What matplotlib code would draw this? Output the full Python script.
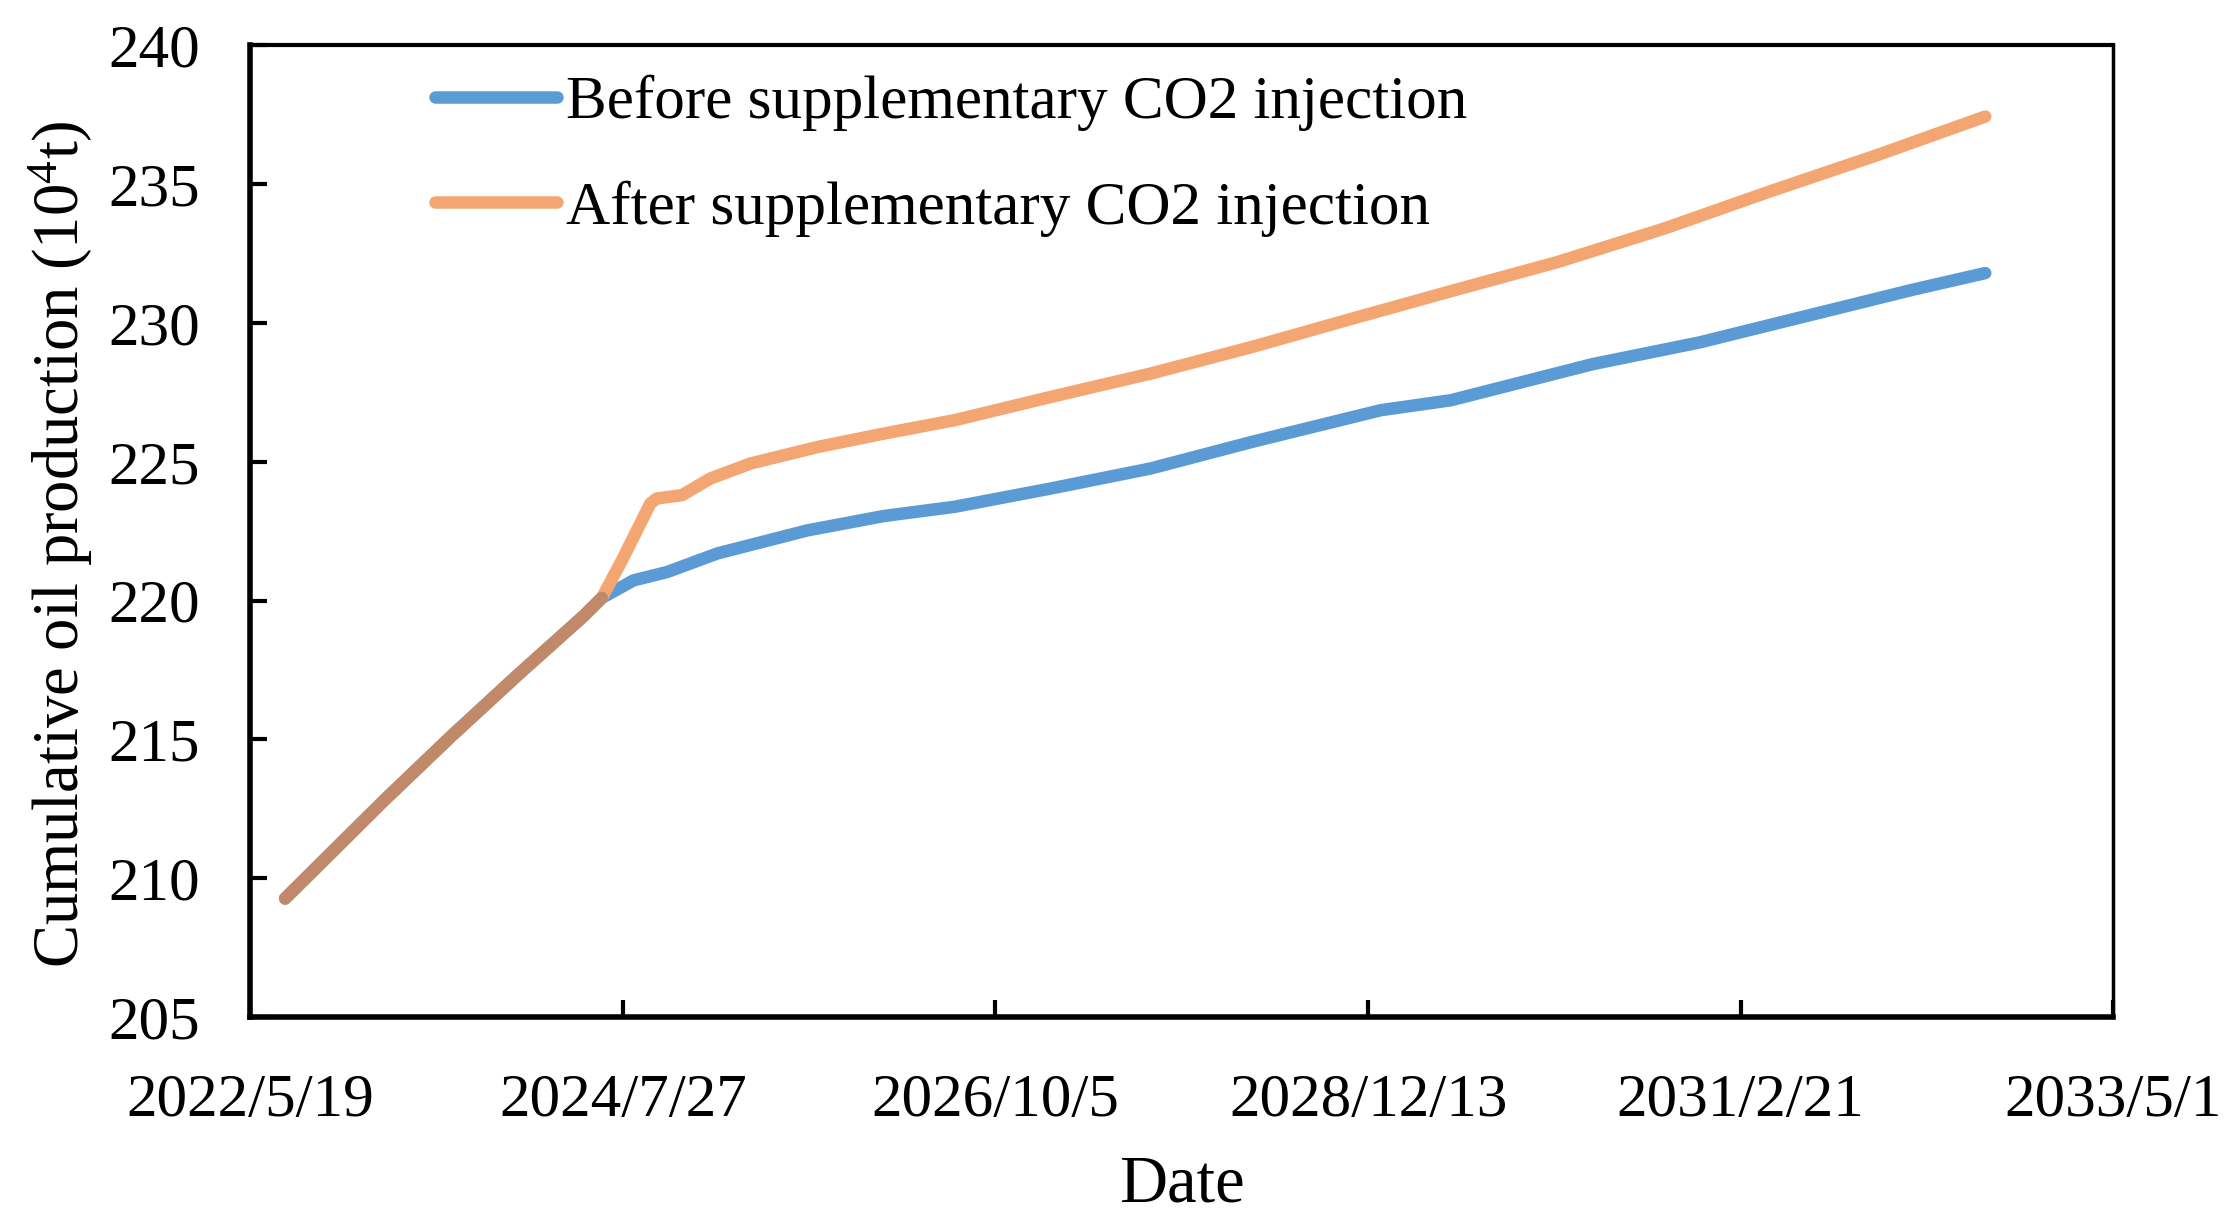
import matplotlib.pyplot as plt
import pandas as pd

plt.rcParams['font.family'] = ['Liberation Serif', 'DejaVu Serif']
plt.rcParams['mathtext.fontset'] = 'custom'
plt.rcParams['mathtext.rm'] = 'Liberation Serif'
plt.rcParams['mathtext.it'] = 'Liberation Serif:italic'

# history shared by both cases (10^4 t)
common_dates = ["2022-08-02", "2022-10-09", "2023-03-01", "2023-07-23",
                "2023-12-13", "2024-05-04", "2024-06-12"]
common_vals = [209.27, 210.4, 212.78, 215.09, 217.3, 219.45, 220.1]

# forecast without supplementary injection
before_dates = ["2024-08-19", "2024-10-30", "2025-02-15", "2025-08-27",
                "2026-02-08", "2026-07-09", "2027-02-01", "2027-09-03",
                "2028-04-08", "2029-01-09", "2029-06-09", "2030-04-09",
                "2030-11-24", "2031-07-11", "2032-02-25", "2032-07-30"]
before_vals = [220.73, 221.03, 221.7, 222.53, 223.05, 223.38, 224.04, 224.76,
               225.72, 226.86, 227.22, 228.52, 229.3, 230.25, 231.2, 231.8]

# forecast with supplementary injection
after_dates = ["2024-07-25", "2024-09-24", "2024-10-08", "2024-12-01",
               "2025-01-31", "2025-04-27", "2025-09-17", "2026-02-08",
               "2026-07-09", "2027-02-01", "2027-09-03", "2028-04-08",
               "2028-11-09", "2029-06-09", "2030-01-24", "2030-09-09",
               "2031-04-26", "2031-12-11", "2032-07-30"]
after_vals = [221.45, 223.5, 223.68, 223.8, 224.4, 224.94, 225.53, 226.02,
              226.5, 227.34, 228.18, 229.14, 230.16, 231.15, 232.2, 233.4,
              234.75, 236.05, 237.44]

tick_dates = ["2022-05-19", "2024-07-27", "2026-10-05", "2028-12-13",
              "2031-02-21", "2033-05-01"]
tick_labels = ["2022/5/19", "2024/7/27", "2026/10/5", "2028/12/13",
               "2031/2/21", "2033/5/1"]

x_common = pd.to_datetime(common_dates)
x_before = pd.to_datetime(common_dates + before_dates)
y_before = common_vals + before_vals
x_after = pd.to_datetime(common_dates + after_dates)
y_after = common_vals + after_vals

fig = plt.figure(figsize=(22.34, 12.29), dpi=100)
ax = fig.add_axes([0.112, 0.1725, 0.834, 0.7905])

lw = 9
ax.plot(x_before, y_before, color='#5B9BD5', lw=lw, solid_capstyle='round',
        solid_joinstyle='round', label='Before supplementary CO2 injection')
ax.plot(x_after, y_after, color='#F4A672', lw=lw, solid_capstyle='round',
        solid_joinstyle='round', label='After supplementary CO2 injection')
# where the two curves overlap they show as a mixed brown
ax.plot(x_common, common_vals, color='#C08A6A', lw=lw, solid_capstyle='round',
        solid_joinstyle='round')

ticks = pd.to_datetime(tick_dates)
ax.set_xlim(ticks[0], ticks[-1])
ax.set_xticks(ticks)
ax.set_xticklabels(tick_labels)
ax.set_ylim(205, 240)
ax.set_yticks(range(205, 241, 5))

ax.tick_params(axis='both', direction='in', length=12, width=3,
               labelsize=44)
ax.tick_params(axis='y', pad=36)
ax.tick_params(axis='x', pad=41)

ax.spines['left'].set_linewidth(4)
ax.spines['bottom'].set_linewidth(4)
ax.spines['top'].set_linewidth(3)
ax.spines['right'].set_linewidth(2.5)

ax.set_xlabel('Date', fontsize=48, labelpad=18)
ax.set_ylabel('Cumulative oil production (10$^{4}$t)', fontsize=46.5,
              labelpad=10)
ax.yaxis.label.set_y(0.487)

ax.legend(loc='upper left', bbox_to_anchor=(0.099, 0.970), frameon=False,
          fontsize=44, handlelength=2.0, handletextpad=0.15,
          labelspacing=0.81, borderpad=0, borderaxespad=0)

fig.savefig('out.png', dpi=100)
